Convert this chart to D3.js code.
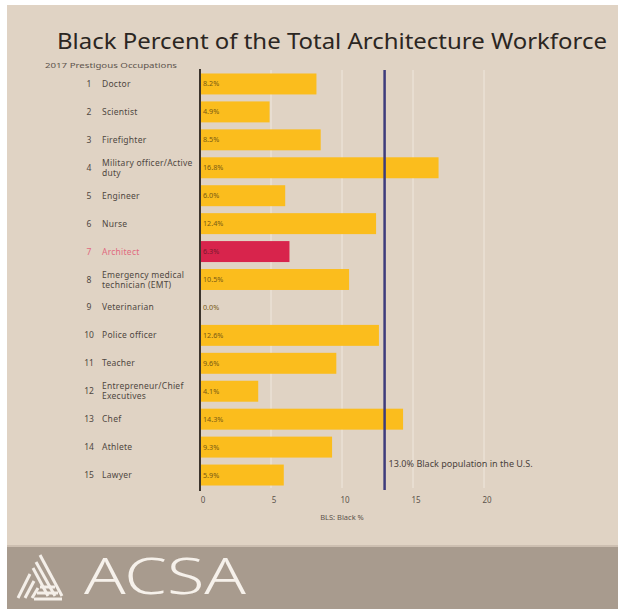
<!DOCTYPE html>
<html>
<head>
<meta charset="utf-8">
<script src="https://cdn.jsdelivr.net/npm/d3@7"></script>
<style>
  html, body { margin: 0; padding: 0; background: #ffffff; }
  svg { display: block; }
  text { font-family: "Noto Sans", "Open Sans", sans-serif; }
</style>
</head>
<body>
<svg id="chart" width="618" height="609"></svg>
<script>
// Occupations ranked by prestige (2017), with Black share of each workforce (BLS)
const ranks = [1, 2, 3, 4, 5, 6, 7, 8, 9, 10, 11, 12, 13, 14, 15];
const occupations = [
  ["Doctor"],
  ["Scientist"],
  ["Firefighter"],
  ["Military officer/Active", "duty"],
  ["Engineer"],
  ["Nurse"],
  ["Architect"],
  ["Emergency medical", "technician (EMT)"],
  ["Veterinarian"],
  ["Police officer"],
  ["Teacher"],
  ["Entrepreneur/Chief", "Executives"],
  ["Chef"],
  ["Athlete"],
  ["Lawyer"]
];
const blackPct = [8.2, 4.9, 8.5, 16.8, 6.0, 12.4, 6.3, 10.5, 0.0, 12.6, 9.6, 4.1, 14.3, 9.3, 5.9];
const highlight = "Architect";
const populationPct = 13.0;
const xTicks = [0, 5, 10, 15, 20];

const svg = d3.select("#chart");

// page background and footer band
svg.append("rect").attr("x", 7).attr("y", 5).attr("width", 611).attr("height", 604).attr("fill", "#e0d3c4");
svg.append("rect").attr("x", 7).attr("y", 547).attr("width", 611).attr("height", 62).attr("fill", "#a89b8e");
svg.append("rect").attr("x", 7).attr("y", 545).attr("width", 611).attr("height", 2).attr("fill", "#cdbfb1");

// title
svg.append("text")
  .attr("x", 57).attr("y", 49)
  .attr("font-size", 22.5)
  .attr("fill", "#2b2622")
  .attr("textLength", 550)
  .attr("lengthAdjust", "spacingAndGlyphs")
  .text("Black Percent of the Total Architecture Workforce");

svg.append("text")
  .attr("x", 45).attr("y", 68)
  .attr("font-size", 7.5)
  .attr("fill", "#5d544d")
  .attr("textLength", 132)
  .attr("lengthAdjust", "spacingAndGlyphs")
  .text("2017  Prestigous Occupations");

const x = d3.scaleLinear().domain([0, 20]).range([200, 484]);
const y = d3.scaleBand().domain(ranks).range([70, 489]).paddingInner(0.25).paddingOuter(0.125);

// gridlines
svg.append("g")
  .selectAll("line")
  .data(xTicks.slice(1))
  .join("line")
  .attr("x1", d => x(d)).attr("x2", d => x(d))
  .attr("y1", 70).attr("y2", 488)
  .attr("stroke", "#efe7dd").attr("stroke-width", 1);

// bars
svg.append("g")
  .selectAll("rect")
  .data(ranks)
  .join("rect")
  .attr("x", x(0))
  .attr("y", d => y(d))
  .attr("width", (d, i) => x(blackPct[i]) - x(0))
  .attr("height", y.bandwidth())
  .attr("fill", (d, i) => occupations[i][0] === highlight ? "#d8244c" : "#fbbd1d");

// value labels inside bars
svg.append("g")
  .selectAll("text")
  .data(ranks)
  .join("text")
  .attr("x", x(0) + 3)
  .attr("y", d => y(d) + y.bandwidth() / 2 + 2.5)
  .attr("font-size", 7.2)
  .attr("fill", (d, i) => occupations[i][0] === highlight ? "#7a1a2c" : "#7a5a14")
  .text((d, i) => blackPct[i].toFixed(1) + "%");

// zero baseline
svg.append("line")
  .attr("x1", x(0)).attr("x2", x(0))
  .attr("y1", 69).attr("y2", 491)
  .attr("stroke", "#3a332d").attr("stroke-width", 2);

// population reference line
svg.append("line")
  .attr("x1", x(populationPct)).attr("x2", x(populationPct))
  .attr("y1", 70).attr("y2", 490)
  .attr("stroke", "#3e3c7c").attr("stroke-width", 2.5);

svg.append("text")
  .attr("x", x(populationPct) + 4).attr("y", 467)
  .attr("font-size", 8)
  .attr("fill", "#4a423c")
  .attr("textLength", 144)
  .attr("lengthAdjust", "spacingAndGlyphs")
  .text(populationPct.toFixed(1) + "% Black population in the U.S.");

// category labels: rank number + occupation name
const labels = svg.append("g")
  .selectAll("g")
  .data(ranks)
  .join("g")
  .attr("transform", d => `translate(0,${y(d) + y.bandwidth() / 2})`)
  .attr("fill", (d, i) => occupations[i][0] === highlight ? "#e06a80" : "#4f4741");

labels.append("text")
  .attr("x", 89).attr("y", 3)
  .attr("text-anchor", "middle")
  .attr("font-size", 8.5)
  .text(d => d);

labels.append("text")
  .attr("x", 102)
  .attr("font-size", 8.5)
  .attr("letter-spacing", 0.25)
  .each(function(d, i) {
    const lines = occupations[i];
    const t = d3.select(this);
    lines.forEach((s, k) => {
      t.append("tspan")
        .attr("x", 102)
        .attr("y", 3 + (k - (lines.length - 1) / 2) * 10)
        .text(s);
    });
  });

// x axis tick labels
svg.append("g")
  .selectAll("text")
  .data(xTicks)
  .join("text")
  .attr("x", d => x(d) + 3)
  .attr("y", 503)
  .attr("text-anchor", "middle")
  .attr("font-size", 8)
  .attr("fill", "#5d544d")
  .text(d => d);

svg.append("text")
  .attr("x", 342).attr("y", 520)
  .attr("text-anchor", "middle")
  .attr("font-size", 7.5)
  .attr("fill", "#5d544d")
  .text("BLS: Black %");

// ACSA logo mark: striped triangle
const logo = svg.append("g").attr("fill", "none").attr("stroke", "#f4efe9").attr("stroke-width", 3).attr("stroke-linecap", "butt");
const mark = [
  [[40, 555], [62, 596]],
  [[36, 562], [55, 596]],
  [[33, 568], [48, 596]],
  [[30, 574], [18, 598]],
  [[34, 581], [25, 598]],
  [[38, 588], [32, 598]],
  [[34, 599], [62, 599]],
  [[37, 593], [58, 593]],
  [[40, 587], [55, 587]]
];
logo.selectAll("line")
  .data(mark)
  .join("line")
  .attr("x1", d => d[0][0]).attr("y1", d => d[0][1])
  .attr("x2", d => d[1][0]).attr("y2", d => d[1][1]);

svg.append("text")
  .attr("x", 84).attr("y", 594)
  .attr("font-size", 50)
  .attr("font-weight", 300)
  .attr("fill", "#f6f1eb")
  .attr("textLength", 162)
  .attr("lengthAdjust", "spacingAndGlyphs")
  .text("ACSA");
</script>
</body>
</html>
